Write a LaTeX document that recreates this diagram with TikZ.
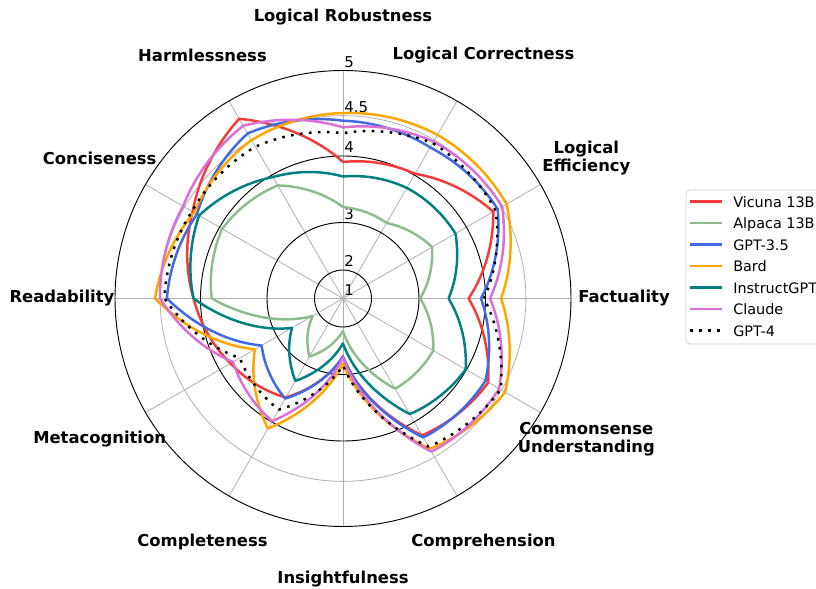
\documentclass[tikz,border=0pt]{standalone}
\usepackage{fontspec}
\setmainfont{DejaVu Sans}
\usetikzlibrary{calc}

\definecolor{vicunared}{RGB}{245,58,58}
\definecolor{alpacagreen}{RGB}{143,188,143}
\definecolor{gptblue}{RGB}{65,105,225}
\definecolor{bardorange}{RGB}{255,165,0}
\definecolor{instructteal}{RGB}{0,128,128}
\definecolor{claudepink}{RGB}{218,112,214}
\definecolor{gridgray}{RGB}{176,176,176}
\definecolor{boxgray}{RGB}{204,204,204}

% scores from 0 deg (Factuality) round to 330 deg, first one repeated at the end
\def\vicuna{{3.77,4.39,4.02,3.92,4.78,4.39,4.09,3.83,3.61,2.67,4.20,4.32,3.77}}
\def\alpaca{{3.02,3.44,3.19,3.26,3.84,3.96,3.85,2.16,2.84,2.10,3.46,3.46,3.02}}
\def\gptthree{{3.94,4.45,4.40,4.44,4.59,4.33,4.42,3.30,3.63,2.66,4.23,4.28,3.94}}
\def\bard{{4.20,4.57,4.57,4.53,4.50,4.37,4.56,3.42,4.10,2.80,4.39,4.55,4.20}}
\def\instruct{{3.48,3.83,3.80,3.72,3.97,4.30,4.09,2.68,3.32,2.39,3.88,3.99,3.48}}
\def\claude{{4.06,4.51,4.48,4.36,4.69,4.52,4.50,3.79,3.99,2.68,4.43,4.47,4.06}}
\def\gptfour{{3.98,4.42,4.46,4.29,4.41,4.40,4.45,3.68,3.81,2.84,4.36,4.49,3.98}}

% squared radial scale: 1 at the centre, 5 on the rim (228px)
\def\scoreline[#1]#2{\draw[#1] plot[domain=0:12,samples=241,variable=\t]
  ({30*\t}:{9.5*((#2[int(min(\t,11))]+(#2[int(min(\t,11))+1]-#2[int(min(\t,11))])*(\t-int(min(\t,11))))^2-1)});}

\begin{document}
\begin{tikzpicture}[x=0.75pt,y=0.75pt,
    spoke/.style={draw=gridgray,line width=0.6pt},
    ring/.style={draw=black,line width=0.7pt},
    ticklab/.style={font=\fontsize{11.2}{13}\selectfont,inner sep=0pt,anchor=base west},
    axislab/.style={font=\fontsize{12.3}{13.5}\selectfont\bfseries,align=center,inner sep=0pt},
    leglab/.style={font=\fontsize{10.8}{13}\selectfont,inner sep=0pt,anchor=base west},
    legendbox/.style={draw=boxgray,line width=0.6pt,fill=white,rounded corners=3pt},
    score/.style={line width=1.85pt,line join=round},
    vicunaline/.style={score,vicunared},
    alpacaline/.style={score,alpacagreen},
    gptthreeline/.style={score,gptblue},
    bardline/.style={score,bardorange},
    instructline/.style={score,instructteal},
    claudeline/.style={score,claudepink},
    gptfourline/.style={score,black,dash pattern=on 1.95pt off 4.8pt}]
			%%%%% START %%%%%
			\useasboundingbox (-343,-289.5) rectangle (473,298.5);
			
			% grid
			\foreach \a in {0,30,...,330}
				\draw[spoke] (0,0) -- (\a:228);
			\foreach \v in {2,3,4}
				\draw[ring] (0,0) circle ({9.5*(\v*\v-1)});
			\draw[spoke] (0,0) circle ({9.5*(4.5*4.5-1)});
			\draw[ring] (0,0) circle (228);
			
			% radial ticks
			\foreach \v/\s [count=\k] in {1/1,2/2,3/3,4/4,4.5/4.5,5/5}
				\node[ticklab] (tick\k) at (1,{9.5*(\v*\v-1)+3}) {\s};
			
			% category labels
			\foreach \a/\n/\txt in {0/fact/Factuality,30/effi/{Logical\\Efficiency},
				60/corr/Logical Correctness,90/robu/Logical Robustness,
				120/harm/Harmlessness,150/conc/Conciseness,180/read/Readability,
				210/meta/Metacognition,240/comp/Completeness,270/insi/Insightfulness,
				300/comh/Comprehension,330/comm/{Commonsense\\Understanding}}
				\node[axislab] (\n) at (\a:281) {\txt};
			
			% scores
			\scoreline[vicunaline]{\vicuna}
			\scoreline[alpacaline]{\alpaca}
			\scoreline[gptthreeline]{\gptthree}
			\scoreline[bardline]{\bard}
			\scoreline[instructline]{\instruct}
			\scoreline[claudeline]{\claude}
			\scoreline[gptfourline]{\gptfour}
			
			% legend
			\draw[legendbox] (343,108.5) rectangle (500,-45.5);
			\foreach \s/\n/\txt [count=\k] in {vicunaline/vic/Vicuna 13B,alpacaline/alp/Alpaca 13B,
				gptthreeline/gpt/GPT-3.5,bardline/bar/Bard,instructline/ins/InstructGPT,
				claudeline/cla/Claude,gptfourline/gpf/GPT-4}{
				\coordinate (\n a) at (347,{118.3-21.5*\k});
				\coordinate (\n b) at (379,{118.3-21.5*\k});
				\draw[\s,dash phase=0pt] (\n a) -- (\n b);
				\node[leglab] (\n) at ($(\n b)+(11,-5.5)$) {\txt};
			}
			
			%%%%% END %%%%%
\end{tikzpicture}
\end{document}
